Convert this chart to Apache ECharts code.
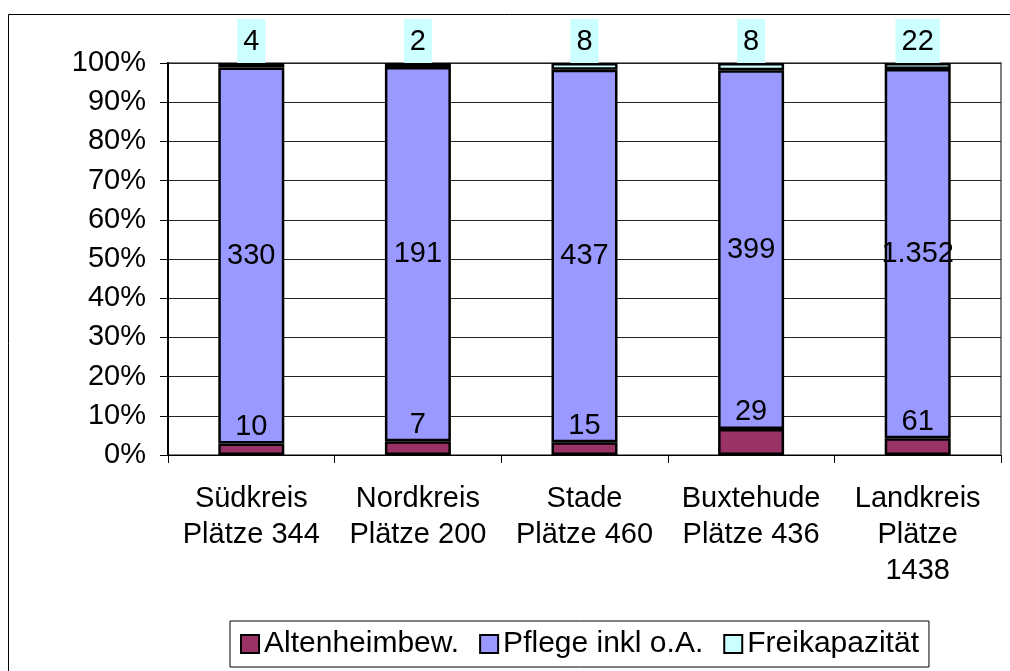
<!DOCTYPE html>
<html>
<head>
<meta charset="utf-8">
<script src="https://cdn.jsdelivr.net/npm/echarts@6/dist/echarts.min.js"></script>
<style>
  html, body { margin: 0; padding: 0; background: #fff; }
  #chart { width: 1010px; height: 671px; }
</style>
</head>
<body>
<div id="chart"></div>
<script>
// Pflegeplätze je Region (absolute Zahlen)
const categories = ['Südkreis\nPlätze 344', 'Nordkreis\nPlätze 200', 'Stade\nPlätze 460', 'Buxtehude\nPlätze 436', 'Landkreis\nPlätze\n1438'];
const altenheim = [10, 7, 15, 29, 61];
const pflege = [330, 191, 437, 399, 1352];
const frei = [4, 2, 8, 8, 22];
const yTicks = [0, 10, 20, 30, 40, 50, 60, 70, 80, 90, 100];

const totals = categories.map((_, i) => altenheim[i] + pflege[i] + frei[i]);
const share = arr => arr.map((v, i) => ({ value: v / totals[i] * 100, raw: v }));

// Tausenderpunkt nach deutscher Schreibweise
function fmt(n) {
  return String(n).replace(/\B(?=(\d{3})+(?!\d))/g, '.');
}

const FONT = 'Liberation Sans, Arial, sans-serif';
const labelBase = { show: true, color: '#000', fontSize: 29, fontFamily: FONT, formatter: p => fmt(p.data.raw) };
const barBorder = { borderColor: '#000', borderWidth: 2.5 };
const BAR_W = 66;

const chart = echarts.init(document.getElementById('chart'), null, { renderer: 'canvas' });
chart.setOption({
  animation: false,
  backgroundColor: '#fff',
  textStyle: { fontFamily: FONT },
  graphic: [{
    type: 'rect',
    shape: { x: 8.5, y: 14.5, width: 1100, height: 800 },
    style: { fill: 'none', stroke: '#000', lineWidth: 1 },
    silent: true,
    z: -10
  }],
  grid: {
    left: 168, right: 9, top: 63, bottom: 216,
    show: true, borderColor: '#808080', borderWidth: 2, backgroundColor: 'transparent'
  },
  legend: {
    left: 230, top: 621,
    padding: [6, 10, 6, 10],
    borderColor: '#000', borderWidth: 1,
    itemWidth: 18, itemHeight: 18, itemGap: 20,
    icon: 'rect',
    textStyle: { fontSize: 30, fontFamily: FONT, color: '#000', lineHeight: 34 },
    itemStyle: { borderColor: '#000', borderWidth: 2 },
    data: ['Altenheimbew.', 'Pflege inkl o.A.', 'Freikapazität']
  },
  xAxis: {
    type: 'category',
    data: categories,
    boundaryGap: true,
    axisLine: { lineStyle: { color: '#000', width: 1 } },
    axisTick: { show: true, alignWithLabel: false, length: 8, lineStyle: { color: '#000' } },
    axisLabel: { color: '#000', fontSize: 29, fontFamily: FONT, lineHeight: 36, margin: 26, interval: 0 }
  },
  yAxis: {
    type: 'value',
    min: yTicks[0], max: yTicks[yTicks.length - 1], interval: 10,
    axisLine: { show: true, lineStyle: { color: '#000', width: 2 } },
    axisTick: { show: true, length: 8, lineStyle: { color: '#000' } },
    axisLabel: { color: '#000', fontSize: 29, fontFamily: FONT, margin: 22, formatter: '{value}%' },
    splitLine: { show: true, lineStyle: { color: '#222', width: 1 } }
  },
  series: [
    {
      name: 'Altenheimbew.', type: 'bar', stack: 'total', barWidth: BAR_W,
      data: share(altenheim),
      itemStyle: Object.assign({ color: '#993366' }, barBorder),
      label: Object.assign({ position: 'top', distance: 2 }, labelBase)
    },
    {
      name: 'Pflege inkl o.A.', type: 'bar', stack: 'total', barWidth: BAR_W,
      data: share(pflege),
      itemStyle: Object.assign({ color: '#9999FF' }, barBorder),
      label: Object.assign({ position: 'inside' }, labelBase)
    },
    {
      name: 'Freikapazität', type: 'bar', stack: 'total', barWidth: BAR_W,
      data: share(frei),
      itemStyle: Object.assign({ color: '#CCFFFF' }, barBorder),
      label: Object.assign({
        position: 'top', distance: 0,
        backgroundColor: '#CCFFFF', padding: [7, 6, 5, 6], lineHeight: 32
      }, labelBase)
    }
  ]
});
</script>
</body>
</html>
